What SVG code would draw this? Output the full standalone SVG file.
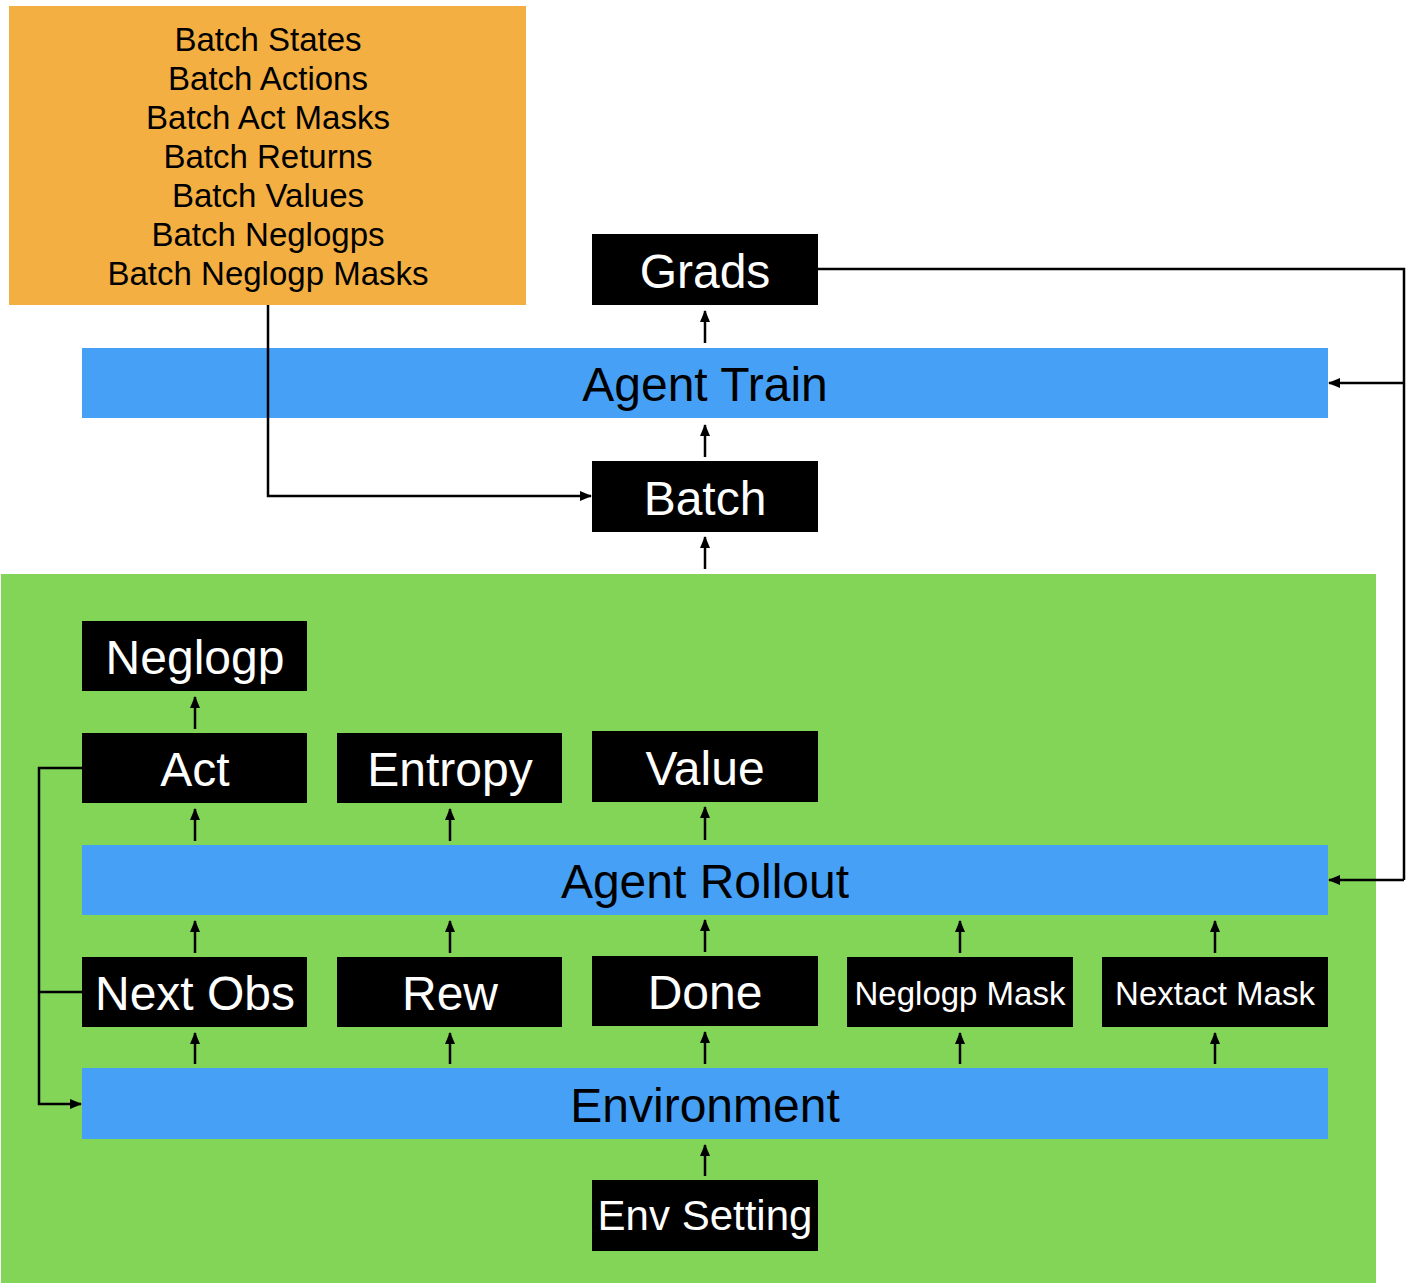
<svg xmlns="http://www.w3.org/2000/svg" width="1414" height="1288" viewBox="0 0 1414 1288">
<style>
.blk{fill:#000}
.band{fill:#46A1F6}
.lbl{font-family:"Liberation Sans",Arial,Helvetica,sans-serif;text-anchor:middle}
.w{fill:#fff;font-size:48px}
.b{fill:#000;font-size:48px}
.sm{fill:#fff;font-size:33px}
.or{fill:#000;font-size:33px}
.con{fill:none;stroke:#000;stroke-width:2.5}
</style>
<defs>
<marker id="ah" markerUnits="userSpaceOnUse" markerWidth="12" markerHeight="10" refX="11" refY="5" orient="auto">
<path d="M0,0 L12,5 L0,10 z" fill="#000"/>
</marker>
</defs>
<rect width="1414" height="1288" fill="#fff"/>
<g id="batch-info">
<rect x="9" y="6" width="517" height="299" fill="#F3AF41"/>
<text class="lbl or" x="268" y="51">Batch States</text>
<text class="lbl or" x="268" y="90">Batch Actions</text>
<text class="lbl or" x="268" y="129">Batch Act Masks</text>
<text class="lbl or" x="268" y="168">Batch Returns</text>
<text class="lbl or" x="268" y="207">Batch Values</text>
<text class="lbl or" x="268" y="246">Batch Neglogps</text>
<text class="lbl or" x="268" y="285">Batch Neglogp Masks</text>
</g>
<g id="rollout-area">
<rect x="1" y="574" width="1375" height="709" fill="#83D557"/>
</g>
<g id="grads"><rect class="blk" x="592" y="234" width="226" height="71"/><text class="lbl w" x="705" y="288">Grads</text></g>
<g id="agent-train"><rect class="band" x="82" y="348" width="1246" height="70"/><text class="lbl b" x="705" y="401">Agent Train</text></g>
<g id="batch"><rect class="blk" x="592" y="461" width="226" height="71"/><text class="lbl w" x="705" y="515">Batch</text></g>
<g id="neglogp"><rect class="blk" x="82" y="621" width="225" height="70"/><text class="lbl w" x="195" y="674">Neglogp</text></g>
<g id="act"><rect class="blk" x="82" y="733" width="225" height="70"/><text class="lbl w" x="195" y="786">Act</text></g>
<g id="entropy"><rect class="blk" x="337" y="733" width="225" height="70"/><text class="lbl w" x="450" y="786">Entropy</text></g>
<g id="value"><rect class="blk" x="592" y="731" width="226" height="71"/><text class="lbl w" x="705" y="785">Value</text></g>
<g id="agent-rollout"><rect class="band" x="82" y="845" width="1246" height="70"/><text class="lbl b" x="705" y="898">Agent Rollout</text></g>
<g id="next-obs"><rect class="blk" x="82" y="957" width="225" height="70"/><text class="lbl w" x="195" y="1010">Next Obs</text></g>
<g id="rew"><rect class="blk" x="337" y="957" width="225" height="70"/><text class="lbl w" x="450" y="1010">Rew</text></g>
<g id="done"><rect class="blk" x="592" y="956" width="226" height="70"/><text class="lbl w" x="705" y="1009">Done</text></g>
<g id="neglogp-mask"><rect class="blk" x="847" y="957" width="226" height="70"/><text class="lbl sm" x="960" y="1005">Neglogp Mask</text></g>
<g id="nextact-mask"><rect class="blk" x="1102" y="957" width="226" height="70"/><text class="lbl sm" x="1215" y="1005">Nextact Mask</text></g>
<g id="environment"><rect class="band" x="82" y="1068" width="1246" height="71"/><text class="lbl b" x="705" y="1122">Environment</text></g>
<g id="env-setting"><rect class="blk" x="592" y="1180" width="226" height="71"/><text class="lbl w" x="705" y="1230" style="font-size:42px">Env Setting</text></g>
<g id="connectors">
<path class="con" marker-end="url(#ah)" d="M705,343 V311"/>
<path class="con" marker-end="url(#ah)" d="M705,457 V425"/>
<path class="con" marker-end="url(#ah)" d="M705,569 V537"/>
<path class="con" marker-end="url(#ah)" d="M268,305 V496 H591"/>
<path class="con" d="M818,269 H1404 V880"/>
<path class="con" marker-end="url(#ah)" d="M1404,383 H1329"/>
<path class="con" marker-end="url(#ah)" d="M1404,880 H1329"/>
<path class="con" marker-end="url(#ah)" d="M195,729 V697"/>
<path class="con" marker-end="url(#ah)" d="M195,841 V809"/>
<path class="con" marker-end="url(#ah)" d="M450,841 V809"/>
<path class="con" marker-end="url(#ah)" d="M705,840 V807"/>
<path class="con" marker-end="url(#ah)" d="M195,953 V921"/>
<path class="con" marker-end="url(#ah)" d="M450,953 V921"/>
<path class="con" marker-end="url(#ah)" d="M705,952 V920"/>
<path class="con" marker-end="url(#ah)" d="M960,953 V921"/>
<path class="con" marker-end="url(#ah)" d="M1215,953 V921"/>
<path class="con" marker-end="url(#ah)" d="M195,1064 V1033"/>
<path class="con" marker-end="url(#ah)" d="M450,1064 V1033"/>
<path class="con" marker-end="url(#ah)" d="M705,1064 V1032"/>
<path class="con" marker-end="url(#ah)" d="M960,1064 V1033"/>
<path class="con" marker-end="url(#ah)" d="M1215,1064 V1033"/>
<path class="con" marker-end="url(#ah)" d="M705,1176 V1145"/>
<path class="con" marker-end="url(#ah)" d="M82,768 H39 V1104 H81"/>
<path class="con" d="M82,992 H39"/>
</g>
</svg>
